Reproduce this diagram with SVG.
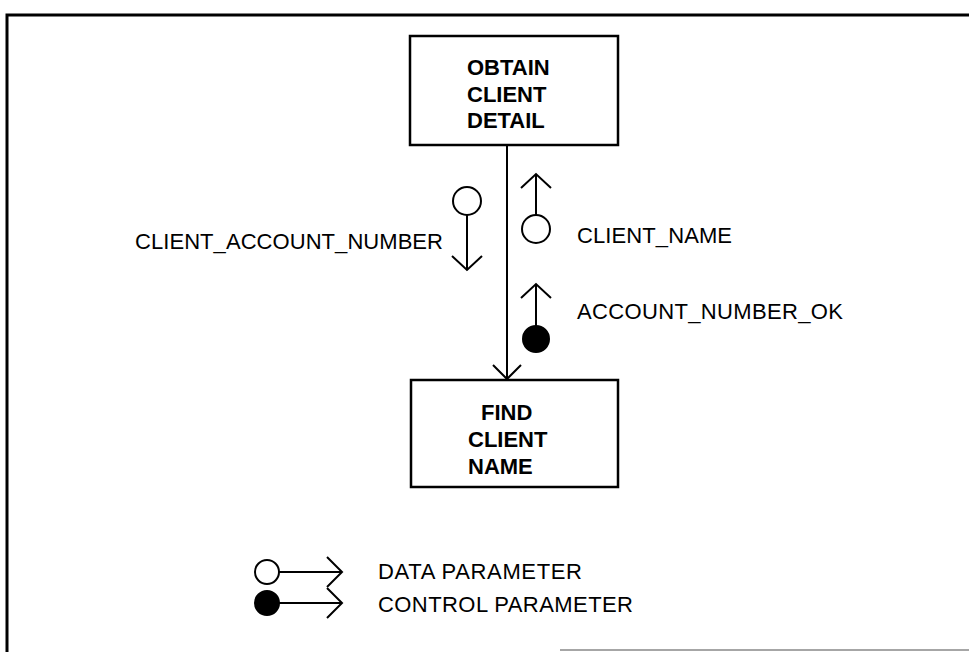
<svg xmlns="http://www.w3.org/2000/svg" width="969" height="652" viewBox="0 0 969 652">
<style>
text{font-family:"Liberation Sans",Arial,sans-serif;font-size:22px;fill:#000}
.b{font-weight:bold}
.box{fill:#fff;stroke:#000;stroke-width:2.5}
.ln{fill:none;stroke:#000;stroke-width:2}
.oc{fill:#fff;stroke:#000;stroke-width:2}
.fc{fill:#000;stroke:#000;stroke-width:2}
</style>
<rect width="969" height="652" fill="#fff"/>
<g id="frame">
<path d="M7,652 V15 H969" fill="none" stroke="#000" stroke-width="3"/>
<path d="M560,650 H969" fill="none" stroke="#888" stroke-width="1.5"/>
</g>
<g id="connectors">
<path class="ln" d="M507,145 V379"/>
<path class="ln" d="M493,365 L507,379 L521,365"/>
</g>
<g id="obtain-client-detail">
<rect class="box" x="410" y="36" width="208" height="109"/>
<text class="b" x="467" y="75">OBTAIN</text>
<text class="b" x="467" y="102">CLIENT</text>
<text class="b" x="467" y="128">DETAIL</text>
</g>
<g id="find-client-name">
<rect class="box" x="411" y="380" width="207" height="107"/>
<text class="b" x="481" y="420">FIND</text>
<text class="b" x="468" y="447">CLIENT</text>
<text class="b" x="468" y="474">NAME</text>
</g>
<g id="couple-client-account-number">
<circle class="oc" cx="467" cy="201" r="14"/>
<path class="ln" d="M467,215 V270 M452,256 L467,270 L482,256"/>
<text x="135" y="249" textLength="308">CLIENT_ACCOUNT_NUMBER</text>
</g>
<g id="couple-client-name">
<circle class="oc" cx="536" cy="229" r="14"/>
<path class="ln" d="M536,215 V174 M521,188 L536,174 L551,188"/>
<text x="577" y="243" textLength="155">CLIENT_NAME</text>
</g>
<g id="couple-account-number-ok">
<circle class="fc" cx="536" cy="339" r="13"/>
<path class="ln" d="M536,326 V284 M521,298 L536,284 L551,298"/>
<text x="577" y="319" textLength="266">ACCOUNT_NUMBER_OK</text>
</g>
<g id="legend">
<circle class="oc" cx="267" cy="572" r="12"/>
<path class="ln" d="M279,572 H342 M327,557 L342,572 L327,587"/>
<circle class="fc" cx="267" cy="603" r="12"/>
<path class="ln" d="M279,603 H342 M327,588 L342,603 L327,618"/>
<text x="378" y="579" textLength="204">DATA PARAMETER</text>
<text x="378" y="612" textLength="255">CONTROL PARAMETER</text>
</g>
</svg>
